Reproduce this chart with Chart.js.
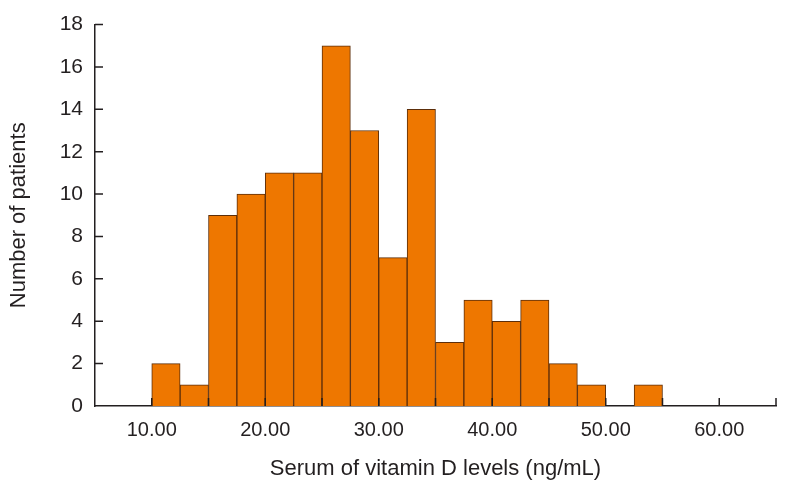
<!DOCTYPE html>
<html>
<head>
<meta charset="utf-8">
<script src="https://cdn.jsdelivr.net/npm/chart.js@4.4.0/dist/chart.umd.min.js"></script>
<style>
  body { margin: 0; background: #fff; }
  #wrap { width: 788px; height: 490px; }
</style>
</head>
<body>
<div id="wrap"><canvas id="c"></canvas></div>
<script>
// histogram bins (ng/mL), bin width 2.5
var binStarts = [10, 12.5, 15, 17.5, 20, 22.5, 25, 27.5, 30, 32.5, 35, 37.5, 40, 42.5, 45, 47.5, 50, 52.5];
var binWidth = 2.5;
var patients = [2, 1, 9, 10, 11, 11, 17, 13, 7, 14, 3, 5, 4, 5, 2, 1, 0, 1];
var xLabelValues = [10, 20, 30, 40, 50, 60];

var ink = '#231f20';
var font = "'Liberation Sans', Arial, sans-serif";

var points = binStarts.map(function (b, i) {
    return { x: b + binWidth / 2, y: patients[i] };
});

// ticks that point into the plot, like the original
var innerTicks = {
    id: 'innerTicks',
    afterDatasetsDraw: function (chart) {
        var ctx = chart.ctx;
        var xs = chart.scales.x, ys = chart.scales.y;
        ctx.save();
        ctx.strokeStyle = ink;
        ctx.lineWidth = 1.5;
        ctx.beginPath();
        xs.ticks.forEach(function (t) {
            if (t.value <= xs.min) return;
            var px = xs.getPixelForValue(t.value);
            ctx.moveTo(px, ys.bottom);
            ctx.lineTo(px, ys.bottom - 8);
        });
        ys.ticks.forEach(function (t) {
            if (t.value <= ys.min) return;
            var py = ys.getPixelForValue(t.value);
            ctx.moveTo(xs.left, py);
            ctx.lineTo(xs.left + 8, py);
        });
        ctx.stroke();
        ctx.restore();
    }
};

var ctx = document.getElementById('c').getContext('2d');
var chart = new Chart(ctx, {
    type: 'bar',
    data: {
        datasets: [{
            data: points,
            backgroundColor: '#ee7700',
            borderColor: '#5c2e0a',
            borderWidth: 1,
            barPercentage: 1,
            categoryPercentage: 1
        }]
    },
    options: {
        responsive: true,
        maintainAspectRatio: false,
        animation: false,
        layout: { padding: { top: 22, right: 7, left: 0, bottom: 0 } },
        plugins: {
            legend: { display: false },
            tooltip: { enabled: false }
        },
        scales: {
            x: {
                type: 'linear',
                min: 5,
                max: 65,
                offset: false,
                grid: { display: false, drawTicks: false },
                border: { display: true, color: ink, width: 1.5 },
                ticks: {
                    stepSize: 5,
                    autoSkip: false,
                    maxRotation: 0,
                    padding: 12,
                    color: ink,
                    font: { family: font, size: 20 },
                    callback: function (v) {
                        return xLabelValues.indexOf(v) >= 0 ? v.toFixed(2) : '';
                    }
                },
                title: {
                    display: true,
                    text: 'Serum of vitamin D levels (ng/mL)',
                    color: ink,
                    font: { family: font, size: 22 },
                    padding: { top: 0, bottom: 8 }
                },
                afterFit: function (s) { s.height = 84; }
            },
            y: {
                min: 0,
                max: 18,
                grid: { display: false, drawTicks: false },
                border: { display: true, color: ink, width: 1.5 },
                ticks: {
                    stepSize: 2,
                    padding: 12,
                    color: ink,
                    font: { family: font, size: 21 }
                },
                title: {
                    display: true,
                    text: 'Number of patients',
                    color: ink,
                    font: { family: font, size: 22 },
                    padding: { top: 6, bottom: 0 }
                },
                afterFit: function (s) { s.width = 95; }
            }
        }
    },
    plugins: [innerTicks]
});
</script>
</body>
</html>
